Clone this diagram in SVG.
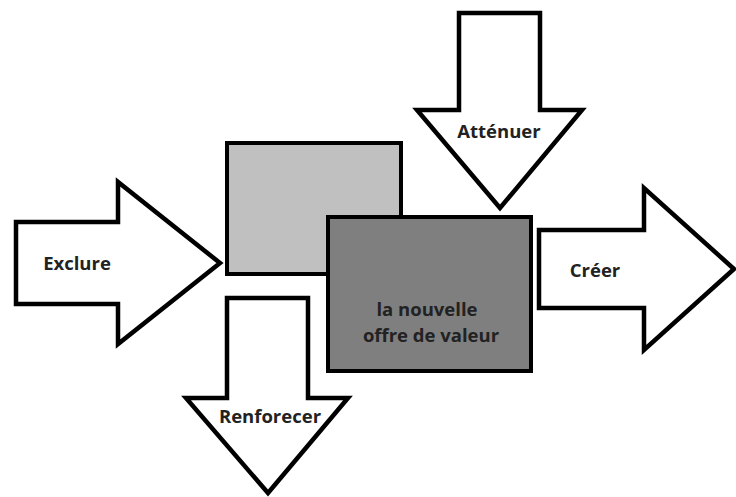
<svg xmlns="http://www.w3.org/2000/svg" width="736" height="497" viewBox="0 0 736 497">
<style>
.arr{fill:#fff;stroke:#000;stroke-width:4.5;stroke-linejoin:miter}
.box{stroke:#000;stroke-width:4}
text{font-family:"Open Sans","Noto Sans","Liberation Sans",sans-serif;font-weight:bold;font-size:18.5px;fill:#222;text-anchor:middle}
</style>
<rect width="736" height="497" fill="#fff"/>
<g id="box-light"><rect class="box" x="227" y="143" width="174" height="131" fill="#c0c0c0"/></g>
<g id="box-dark"><rect class="box" x="328" y="217" width="203" height="154" fill="#7f7f7f"/>
<text x="427" y="316">la nouvelle</text><text x="431" y="342">offre de valeur</text></g>
<g id="arrow-exclure"><polygon class="arr" points="16,222 118,222 118,182 220,263 118,344 118,304 16,304"/><text x="77" y="270">Exclure</text></g>
<g id="arrow-attenuer"><polygon class="arr" points="459,13 540,13 540,110 582,110 500,208 417,110 459,110"/><text x="499" y="138">Atténuer</text></g>
<g id="arrow-creer"><polygon class="arr" points="539,230 644,230 644,188 734,269 644,350 644,308 539,308"/><text x="595" y="277">Créer</text></g>
<g id="arrow-renforcer"><polygon class="arr" points="227,298 308,298 308,398 348,398 268,493 186,398 227,398"/><text x="270" y="423">Renforecer</text></g>
<g id="connectors"/>
</svg>
